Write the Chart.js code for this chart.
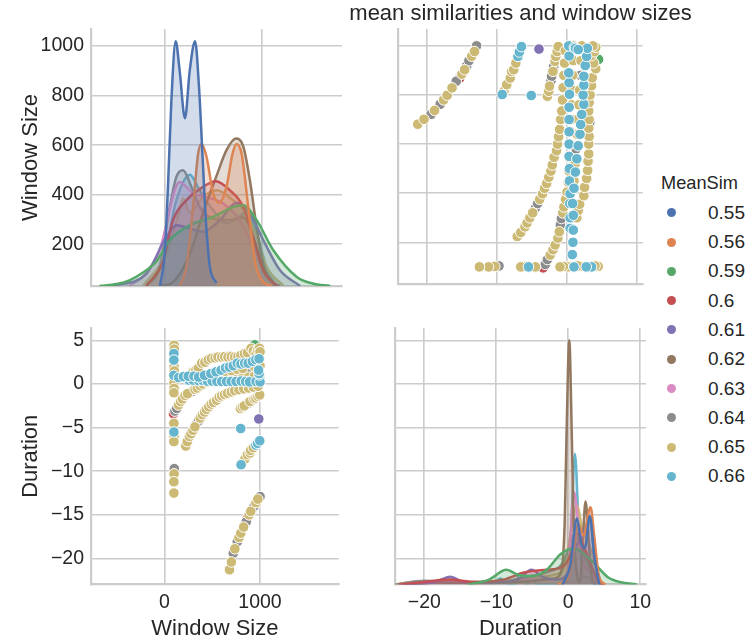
<!DOCTYPE html>
<html>
<head>
<meta charset="utf-8">
<title>mean similarities and window sizes</title>
<script src="https://cdn.jsdelivr.net/npm/chart.js@4.4.1/dist/chart.umd.min.js"></script>
<style>
  html, body { margin: 0; padding: 0; background: #fff; }
  body { position: relative; width: 749px; height: 643px; overflow: hidden;
         font-family: "Liberation Sans", Arial, sans-serif; color: #262626; }
  canvas { position: absolute; }
  #tl { left: 0; top: 0; }
  #tr { left: 392px; top: 0; }
  #bl { left: 0; top: 300px; }
  #br { left: 392px; top: 300px; }
  #suptitle { position: absolute; left: 320px; width: 401px; top: 0; text-align: center;
              font-size: 22px; line-height: 26px; white-space: nowrap; }
  .leg { position: absolute; white-space: nowrap; line-height: 24px; }
  .dot { position: absolute; width: 9px; height: 9px; border-radius: 50%; }
</style>
</head>
<body>
<canvas id="tl" width="345" height="290"></canvas>
<canvas id="tr" width="257" height="290"></canvas>
<canvas id="bl" width="345" height="343"></canvas>
<canvas id="br" width="270" height="343"></canvas>
<div id="suptitle">mean similarities and window sizes</div>
<div id="legend"></div>
<script>
// hue groups
var groups = ['0.55', '0.56', '0.59', '0.6', '0.61', '0.62', '0.63', '0.64', '0.65', '0.66'];

// scatter points (same rows used in both off-diagonal panels), one line per strand
var windowSize = [
  681, 701, 721, 737, 762, 780, 799, 829, 856, 869, 885, 903, 920, 939, 958, 977, 1000,
  802, 815, 842, 869, 896, 903, 930, 957, 975, 997, 798, 987,
  795, 815, 836, 856, 876, 896, 916, 937, 957, 977, 997,
  224, 240, 263, 279, 300, 320, 340, 358, 375, 398, 420, 440, 465, 490, 515, 546, 573, 600, 630, 660, 700, 735, 780, 830, 880, 930, 980,
  96, 110, 130, 148, 170, 189, 217, 243, 270, 297, 320, 344, 375, 405, 445, 490, 545, 600, 650, 700, 760, 820, 880, 940, 1000,
  102, 104, 100, 100, 102, 104, 100, 102, 100, 102, 100, 100, 100, 102, 100, 104, 102, 100, 100,
  450, 520, 580, 640, 700, 760, 820, 880, 940, 1000,
  257, 300, 358, 398, 450, 500, 550, 600, 650, 700, 750, 803, 850, 890, 959, 1000,
  150, 200, 250, 310, 358, 420, 486, 540, 593, 640, 680, 721, 762, 800, 840, 876, 920, 957, 990, 994, 990, 985,
  300, 330, 355, 390, 424, 460, 493, 530, 560, 600, 631, 665, 688, 700, 735, 769, 795, 800, 838, 870, 907, 930, 960, 976, 994, 1000, 945
];
var duration = [
  -21.3, -20.4, -19.4, -18.9, -18.1, -17.6, -17.1, -16.4, -15.8, -15.3, -15.0, -14.6, -14.3, -14.0, -13.6, -13.2, -12.9,
  -9.25, -9.0, -8.6, -8.1, -7.9, -7.6, -7.3, -7.0, -6.8, -6.5, -5.1, -4.0,
  -2.8, -2.6, -2.5, -2.3, -2.2, -2.0, -1.9, -1.7, -1.6, -1.4, -1.25,
  -7.1, -6.6, -6.0, -5.7, -5.3, -4.9, -4.5, -4.2, -3.9, -3.5, -3.2, -2.9, -2.6, -2.3, -2.1, -1.85, -1.5, -1.35, -1.2, -1.05, -0.9, -0.75, -0.65, -0.55, -0.45, -0.35, -0.25,
  -3.4, -3.1, -2.8, -2.4, -2.0, -1.7, -1.3, -1.1, -0.95, -0.8, -0.6, -0.45, -0.2, 0.0, 0.2, 0.3, 0.35, 0.45, 0.5, 0.6, 0.65, 0.75, 0.8, 0.9, 0.95,
  4.45, 4.0, 3.5, 2.75, 2.0, 1.5, 1.0, 0.5, 0.1, -0.5, -1.0, -4.5, -5.5, -6.0, -6.6, -9.7, -10.3, -11.2, -12.5,
  1.0, 1.15, 1.3, 1.45, 1.55, 1.7, 1.8, 1.9, 2.0, 2.1,
  0.45, 0.45, 0.4, 0.45, 0.35, 0.35, 0.3, 0.3, 0.3, 0.3, 0.3, 0.35, 0.3, 0.25, 0.3, 0.25,
  0.75, 0.85, 0.9, 0.9, 0.8, 1.0, 1.2, 1.4, 1.6, 1.85, 1.95, 2.1, 2.4, 2.3, 2.4, 2.4, 2.6, 2.8, 2.9, 1.05, 1.2, 1.6,
  1.4, 1.6, 1.8, 2.4, 2.5, 2.8, 2.95, 3.0, 3.1, 3.1, 3.15, 3.1, 3.25, 3.15, 3.1, 3.15, 3.25, 3.3, 3.5, 3.6, 4.1, 3.8, 3.5, 3.9, 4.1, 3.7, 4.5
];
var meanSim = [
  '0.65', '0.65', '0.64', '0.65', '0.64', '0.65', '0.65', '0.65', '0.64', '0.6', '0.65', '0.65', '0.64', '0.64', '0.65', '0.65', '0.64',
  '0.66', '0.65', '0.65', '0.65', '0.65', '0.65', '0.65', '0.66', '0.66', '0.66', '0.66', '0.61',
  '0.65', '0.65', '0.65', '0.64', '0.64', '0.65', '0.64', '0.65', '0.65', '0.65', '0.65',
  '0.65', '0.65', '0.65', '0.65', '0.65', '0.65', '0.64', '0.64', '0.65', '0.65', '0.65', '0.65', '0.65', '0.65', '0.65', '0.65', '0.65', '0.65', '0.65', '0.65', '0.65', '0.65', '0.65', '0.65', '0.65', '0.65', '0.65',
  '0.6', '0.64', '0.64', '0.65', '0.65', '0.65', '0.65', '0.65', '0.64', '0.64', '0.65', '0.65', '0.65', '0.65', '0.65', '0.65', '0.65', '0.65', '0.65', '0.65', '0.65', '0.65', '0.65', '0.65', '0.65',
  '0.65', '0.65', '0.66', '0.66', '0.65', '0.65', '0.66', '0.65', '0.65', '0.65', '0.65', '0.65', '0.66', '0.65', '0.65', '0.64', '0.65', '0.65', '0.65',
  '0.65', '0.65', '0.64', '0.65', '0.65', '0.65', '0.65', '0.64', '0.65', '0.65',
  '0.66', '0.66', '0.66', '0.66', '0.66', '0.66', '0.66', '0.66', '0.66', '0.66', '0.66', '0.66', '0.66', '0.66', '0.66', '0.66',
  '0.66', '0.66', '0.66', '0.66', '0.66', '0.66', '0.66', '0.66', '0.66', '0.66', '0.66', '0.66', '0.66', '0.66', '0.66', '0.66', '0.66', '0.66', '0.66', '0.66', '0.66', '0.66',
  '0.65', '0.65', '0.65', '0.65', '0.65', '0.65', '0.65', '0.65', '0.65', '0.65', '0.65', '0.65', '0.64', '0.65', '0.65', '0.65', '0.64', '0.65', '0.65', '0.65', '0.65', '0.65', '0.65', '0.65', '0.65', '0.65', '0.59'
];

// density curves of Window Size per group: [window size, density]
var kdeWs055 = [[-55, 0], [-7, 0.13], [28, 0.41], [62, 0.75], [107, 1.0], [148, 0.88], [203, 0.685], [252, 0.88], [307, 1.0], [348, 0.81], [383, 0.54], [418, 0.27], [459, 0.08], [528, 0.012]];
var kdeWs056 = [[148, 0], [217, 0.078], [286, 0.32], [338, 0.54], [373, 0.58], [424, 0.53], [493, 0.38], [555, 0.34], [631, 0.405], [693, 0.54], [735, 0.58], [787, 0.54], [856, 0.32], [925, 0.1], [994, 0.023], [1097, 0]];
var kdeWs059 = [[-680, 0], [-500, 0.008], [-370, 0.023], [-230, 0.055], [-93, 0.1], [45, 0.187], [252, 0.248], [493, 0.282], [700, 0.323], [804, 0.33], [942, 0.269], [1114, 0.146], [1356, 0.037], [1520, 0.01], [1701, 0]];
var kdeWs060 = [[-197, 0], [-24, 0.1], [79, 0.269], [217, 0.35], [390, 0.405], [521, 0.428], [666, 0.391], [804, 0.323], [907, 0.2], [1011, 0.064], [1149, 0]];
var kdeWs061 = [[-542, 0], [-197, 0.05], [10, 0.2], [114, 0.248], [252, 0.235], [390, 0.221], [562, 0.269], [735, 0.34], [873, 0.296], [1011, 0.187], [1183, 0.064], [1390, 0]];
var kdeWs062 = [[-59, 0], [79, 0.016], [252, 0.13], [390, 0.3], [528, 0.45], [631, 0.555], [728, 0.603], [804, 0.57], [873, 0.43], [942, 0.24], [1011, 0.09], [1114, 0.01], [1180, 0]];
var kdeWs063 = [[-370, 0], [-200, 0.05], [-59, 0.146], [148, 0.425], [286, 0.378], [424, 0.364], [597, 0.337], [769, 0.269], [907, 0.16], [1045, 0.037], [1183, 0]];
var kdeWs064 = [[-197, 0], [-59, 0.078], [45, 0.32], [114, 0.446], [183, 0.473], [269, 0.405], [355, 0.323], [493, 0.276], [666, 0.27], [804, 0.28], [907, 0.2], [1011, 0.078], [1149, 0]];
var kdeWs065 = [[-231, 0], [10, 0.132], [148, 0.31], [183, 0.36], [252, 0.3], [390, 0.364], [528, 0.391], [700, 0.35], [838, 0.296], [942, 0.2], [1045, 0.078], [1218, 0]];
var kdeWs066 = [[-197, 0], [-24, 0.1], [114, 0.35], [252, 0.455], [355, 0.39], [493, 0.31], [631, 0.256], [735, 0.276], [838, 0.3], [942, 0.214], [1045, 0.078], [1218, 0]];

// density curves of Duration per group: [duration, density]
var kdeDur055 = [[-0.8, 0], [0.3, 0.08], [1.2, 0.27], [1.8, 0.17], [2.3, 0.15], [3.0, 0.28], [3.6, 0.12], [4.3, 0]];
var kdeDur056 = [[-1.5, 0], [0, 0.03], [0.8, 0.15], [1.4, 0.25], [2.1, 0.2], [3.1, 0.316], [3.6, 0.2], [4.3, 0.03], [5.2, 0]];
var kdeDur059 = [[-14, 0], [-11, 0.02], [-8.6, 0.06], [-7, 0.04], [-5, 0.035], [-3, 0.06], [-1, 0.126], [0.7, 0.146], [2, 0.13], [3.9, 0.078], [5.5, 0.03], [7.2, 0.01], [9.5, 0]];
var kdeDur060 = [[-23.5, 0], [-20, 0.01], [-16.5, 0.02], [-13, 0.01], [-9, 0.02], [-6, 0.05], [-3, 0.06], [-1, 0.07], [0.3, 0.12], [1.2, 0.21], [2.2, 0.15], [3.2, 0.08], [4.2, 0.01], [5, 0]];
var kdeDur061 = [[-23, 0], [-18.5, 0.01], [-16.4, 0.032], [-14.5, 0.01], [-11, 0.008], [-7, 0.02], [-5.1, 0.06], [-3.5, 0.03], [-1.5, 0.02], [0, 0.05], [1.0, 0.15], [2, 0.2], [3.0, 0.27], [3.7, 0.1], [4.6, 0]];
var kdeDur062 = [[-22.5, 0], [-18, 0.008], [-12, 0.006], [-6, 0.012], [-2, 0.025], [-1.0, 0.05], [-0.5, 0.25], [-0.25, 0.6], [0.14, 1.0], [0.5, 0.6], [0.75, 0.25], [1.1, 0.07], [1.63, 0.01], [2.05, 0.2], [2.4, 0.34], [2.8, 0.2], [3.2, 0.04], [3.8, 0]];
var kdeDur063 = [[-23, 0], [-17, 0.01], [-10, 0.008], [-5, 0.02], [-2, 0.02], [-0.2, 0.04], [0.3, 0.2], [0.8, 0.378], [1.4, 0.25], [2, 0.1], [3, 0.05], [4.2, 0]];
var kdeDur064 = [[-24, 0], [-20, 0.015], [-15, 0.01], [-10, 0.01], [-6, 0.03], [-3, 0.05], [-1, 0.08], [0, 0.14], [0.7, 0.2], [1.5, 0.18], [2.5, 0.1], [3.5, 0.04], [5, 0]];
var kdeDur065 = [[-24, 0], [-21, 0.012], [-16, 0.01], [-12, 0.01], [-8, 0.015], [-5, 0.03], [-2, 0.04], [-0.5, 0.08], [0.4, 0.22], [1.2, 0.323], [2, 0.22], [2.8, 0.17], [3.6, 0.1], [4.5, 0.01], [5.2, 0]];
var kdeDur066 = [[-10.5, 0], [-9.4, 0.025], [-8.5, 0.003], [-7.4, 0.003], [-6.7, 0.045], [-6.0, 0.005], [-5.6, 0.004], [-5.1, 0.037], [-4.5, 0.003], [-2, 0.003], [-0.2, 0.01], [0.35, 0.2], [0.93, 0.535], [1.5, 0.2], [2.1, 0.03], [2.8, 0.03], [3.5, 0.003], [4.5, 0]];

// tick labels
var wsColTicks = [0, 1000];
var wsRowTicks = [200, 400, 600, 800, 1000];
var durColTicks = [-20, -10, 0, 10];
var durRowTicks = [5, 0, -5, -10, -15, -20];

var palette = ['#4c72b0', '#dd8452', '#55a868', '#c44e52', '#8172b3', '#937860', '#da8bc3', '#8c8c8c', '#ccb974', '#64b5cd'];
var FONT = "'Liberation Sans', Arial, sans-serif";
var INK = '#262626';
var GRID = '#cccccc';

Chart.defaults.font.family = FONT;
Chart.defaults.color = INK;

function fade(hex, a) {
	var n = parseInt(hex.slice(1), 16);
	return 'rgba(' + (n >> 16) + ',' + ((n >> 8) & 255) + ',' + (n & 255) + ',' + a + ')';
}

function axis(o) {
	return {
		type: 'linear',
		position: o.pos,
		min: o.min,
		max: o.max,
		afterBuildTicks: function(s) { s.ticks = o.ticks.map(function(v) { return {value: v}; }); },
		afterFit: function(s) {
			if (o.pos === 'left') s.width = o.size; else s.height = o.size;
			s.paddingTop = 0; s.paddingBottom = 0; s.paddingLeft = 0; s.paddingRight = 0;
		},
		grid: {color: GRID, lineWidth: 1.6, drawTicks: false},
		border: {display: true, color: GRID, width: 2.2},
		ticks: {
			display: !!o.labels, autoSkip: false, maxRotation: 0,
			padding: o.pos === 'left' ? 7 : 6,
			color: INK, font: {size: 19.5},
			callback: function(v) { return String(v).replace('-', '\u2212'); }
		},
		title: {
			display: !!o.title, text: o.title || '', color: INK,
			font: {size: 22}, padding: o.pos === 'left' ? 18 : 1
		}
	};
}

var WS_COL = {min: -766, max: 1822};
var WS_ROW = {min: 31.5, max: 1068.7};
var DUR_COL = {min: -24.07, max: 10.8};
var DUR_ROW = {min: -22.99, max: 6.43};

function options(xAxis, yAxis, padTop, padRight) {
	return {
		responsive: false,
		animation: false,
		events: [],
		layout: {padding: {top: padTop, right: padRight || 3, left: 0, bottom: 0}},
		plugins: {legend: {display: false}, tooltip: {enabled: false}},
		scales: {x: xAxis, y: yAxis, yd: {type: 'linear', display: false, min: 0, max: 1.05}}
	};
}

function kdeChart(id, curves, xAxis, yAxis, padTop, padRight) {
	return new Chart(document.getElementById(id), {
		type: 'line',
		data: {
			datasets: curves.map(function(pts, i) {
				return {
					label: groups[i],
					data: pts.map(function(p) { return {x: p[0], y: p[1]}; }),
					xAxisID: 'x', yAxisID: 'yd',
					borderColor: palette[i],
					backgroundColor: fade(palette[i], 0.25),
					borderWidth: 2.5,
					pointRadius: 0,
					fill: 'origin',
					cubicInterpolationMode: 'monotone',
					order: i
				};
			})
		},
		options: options(xAxis, yAxis, padTop, padRight)
	});
}

function scatterChart(id, xs, ys, xAxis, yAxis, padTop) {
	return new Chart(document.getElementById(id), {
		type: 'scatter',
		data: {
			datasets: groups.map(function(g, i) {
				var pts = [];
				for (var k = 0; k < meanSim.length; k++) {
					if (meanSim[k] === g) pts.push({x: xs[k], y: ys[k]});
				}
				return {
					label: g, data: pts,
					backgroundColor: palette[i],
					borderColor: '#ffffff',
					borderWidth: 1,
					pointRadius: 5.3,
					order: groups.length - 1 - i
				};
			})
		},
		options: options(xAxis, yAxis, padTop)
	});
}

// top left: Window Size density
kdeChart('tl', [kdeWs055, kdeWs056, kdeWs059, kdeWs060, kdeWs061, kdeWs062, kdeWs063, kdeWs064, kdeWs065, kdeWs066],
	axis({pos: 'bottom', min: WS_COL.min, max: WS_COL.max, ticks: wsColTicks, size: 4}),
	axis({pos: 'left', min: WS_ROW.min, max: WS_ROW.max, ticks: wsRowTicks, labels: true, title: 'Window Size', size: 91}),
	29);

// top right: Duration vs Window Size
scatterChart('tr', duration, windowSize,
	axis({pos: 'bottom', min: DUR_COL.min, max: DUR_COL.max, ticks: durColTicks, size: 4}),
	axis({pos: 'left', min: WS_ROW.min, max: WS_ROW.max, ticks: wsRowTicks, size: 3}),
	29);

// bottom left: Window Size vs Duration
scatterChart('bl', windowSize, duration,
	axis({pos: 'bottom', min: WS_COL.min, max: WS_COL.max, ticks: wsColTicks, labels: true, title: 'Window Size', size: 58.5}),
	axis({pos: 'left', min: DUR_ROW.min, max: DUR_ROW.max, ticks: durRowTicks, labels: true, title: 'Duration', size: 91}),
	28);

// bottom right: Duration density
kdeChart('br', [kdeDur055, kdeDur056, kdeDur059, kdeDur060, kdeDur061, kdeDur062, kdeDur063, kdeDur064, kdeDur065, kdeDur066],
	axis({pos: 'bottom', min: DUR_COL.min, max: DUR_COL.max, ticks: durColTicks, labels: true, title: 'Duration', size: 58.5}),
	axis({pos: 'left', min: DUR_ROW.min, max: DUR_ROW.max, ticks: durRowTicks, size: 3}),
	28, 16);

// legend
var legend = document.getElementById('legend');
var head = document.createElement('div');
head.className = 'leg';
head.style.left = '661px';
head.style.top = '171px';
head.style.fontSize = '18.2px';
head.textContent = 'MeanSim';
legend.appendChild(head);
groups.forEach(function(g, i) {
	var cy = 212.7 + i * 29.3;
	var dot = document.createElement('div');
	dot.className = 'dot';
	dot.style.left = '667px';
	dot.style.top = (cy - 4.5) + 'px';
	dot.style.background = palette[i];
	legend.appendChild(dot);
	var lab = document.createElement('div');
	lab.className = 'leg';
	lab.style.left = '708px';
	lab.style.top = (cy - 12) + 'px';
	lab.style.fontSize = '19px';
	lab.textContent = g;
	legend.appendChild(lab);
});
</script>
</body>
</html>
